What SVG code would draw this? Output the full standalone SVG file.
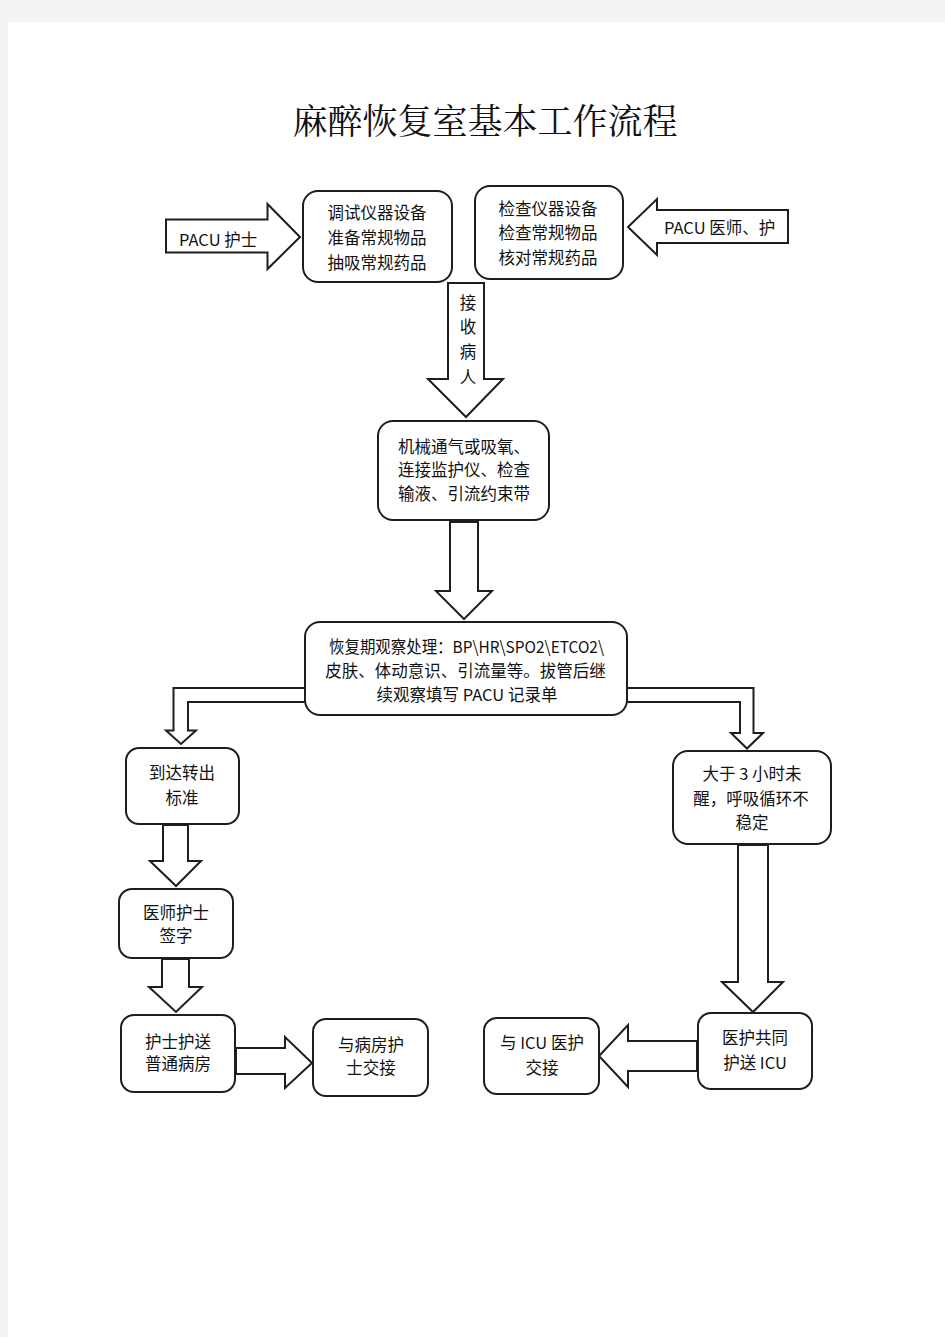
<svg xmlns="http://www.w3.org/2000/svg" width="945" height="1337" viewBox="0 0 945 1337">
<style>
.box{fill:#fff;stroke:#1e1e1e;stroke-width:2}
.arr{fill:#fff;stroke:#1e1e1e;stroke-width:2;stroke-linejoin:miter}
.t{font-family:"Noto Sans CJK SC","Noto Sans",sans-serif;font-size:16.5px;fill:#111;text-anchor:middle}
.ts{font-family:"Noto Sans CJK SC","Noto Sans",sans-serif;font-size:16.5px;fill:#111;text-anchor:start}
.title{font-family:"Noto Serif CJK SC","Liberation Serif",serif;font-size:35px;fill:#111;text-anchor:middle}
</style>
<rect x="0" y="0" width="945" height="1337" fill="#f3f3f3"/>
<rect x="8" y="22" width="937" height="1315" fill="#fff"/>
<text class="title" x="485" y="134">麻醉恢复室基本工作流程</text>

<g id="connectors">
  <g id="arrow-pacu-nurse">
    <polygon class="arr" points="166,219.5 267.5,219.5 267.5,204 300,237 267.5,269 267.5,252.5 166,252.5"/>
    <text class="ts" x="179" y="246">PACU 护士</text>
  </g>
  <g id="arrow-pacu-doctor">
    <polygon class="arr" points="788,210 657,210 657,199 628,227 657,255 657,243 788,243"/>
    <text class="ts" x="664" y="234">PACU 医师、护</text>
  </g>
  <g id="arrow-receive">
    <polygon class="arr" points="448,283 484,283 484,379 503,379 466,417 428,379 448,379"/>
    <text class="t" x="468" y="309">接</text>
    <text class="t" x="468" y="333">收</text>
    <text class="t" x="468" y="358">病</text>
    <text class="t" x="468" y="383">人</text>
  </g>
  <polygon id="arrow-3-4" class="arr" points="450,522 478,522 478,591 492,591 464,619 436,591 450,591"/>
  <polygon id="arrow-4-left" class="arr" points="305,688 173.5,688 173.5,730.5 166,730.5 181,744 196,730.5 188,730.5 188,702 305,702"/>
  <polygon id="arrow-4-right" class="arr" points="627,688 753.5,688 753.5,733 763,733 747,748.5 731,733 740,733 740,702 627,702"/>
  <polygon id="arrow-l1" class="arr" points="163,825 188,825 188,861 201,861 176,886 150,861 163,861"/>
  <polygon id="arrow-l2" class="arr" points="162,959 189,959 189,987 202,987 176,1012 149,987 162,987"/>
  <polygon id="arrow-l3" class="arr" points="236,1048 285,1048 285,1037 312,1063 285,1088 285,1074 236,1074"/>
  <polygon id="arrow-r1" class="arr" points="738,845 768,845 768,982 783,982 753,1012 722,982 738,982"/>
  <polygon id="arrow-r2" class="arr" points="697,1041 628,1041 628,1025 599,1056 628,1087 628,1071 697,1071"/>
</g>

<g id="node-prepare">
  <rect class="box" x="303" y="191" width="149" height="91" rx="15"/>
  <text class="t" x="377" y="219">调试仪器设备</text>
  <text class="t" x="377" y="244">准备常规物品</text>
  <text class="t" x="377" y="269">抽吸常规药品</text>
</g>
<g id="node-check">
  <rect class="box" x="475" y="186" width="148" height="93" rx="15"/>
  <text class="t" x="548" y="215">检查仪器设备</text>
  <text class="t" x="548" y="239">检查常规物品</text>
  <text class="t" x="548" y="264">核对常规药品</text>
</g>
<g id="node-ventilate">
  <rect class="box" x="378" y="421" width="171" height="99" rx="15"/>
  <text class="t" x="464" y="453">机械通气或吸氧、</text>
  <text class="t" x="464" y="476">连接监护仪、检查</text>
  <text class="t" x="464" y="500">输液、引流约束带</text>
</g>
<g id="node-observe">
  <rect class="box" x="305" y="622" width="322" height="93" rx="15"/>
  <text class="t" x="466.5" y="653" textLength="275" lengthAdjust="spacingAndGlyphs">恢复期观察处理：BP\HR\SPO2\ETCO2\</text>
  <text class="t" x="465.5" y="677">皮肤、体动意识、引流量等。拔管后继</text>
  <text class="t" x="467" y="701">续观察填写 PACU 记录单</text>
</g>
<g id="node-standard">
  <rect class="box" x="126" y="748" width="113" height="76" rx="13"/>
  <text class="t" x="182" y="779">到达转出</text>
  <text class="t" x="182" y="804">标准</text>
</g>
<g id="node-sign">
  <rect class="box" x="119" y="889" width="114" height="69" rx="13"/>
  <text class="t" x="176" y="919">医师护士</text>
  <text class="t" x="176" y="942">签字</text>
</g>
<g id="node-ward">
  <rect class="box" x="121" y="1015" width="114" height="77" rx="13"/>
  <text class="t" x="178" y="1048">护士护送</text>
  <text class="t" x="178" y="1070">普通病房</text>
</g>
<g id="node-ward-handover">
  <rect class="box" x="313" y="1019" width="115" height="77" rx="13"/>
  <text class="t" x="371" y="1051">与病房护</text>
  <text class="t" x="371" y="1074">士交接</text>
</g>
<g id="node-unstable">
  <rect class="box" x="673" y="751" width="158" height="93" rx="15"/>
  <text class="t" x="752" y="780">大于 3 小时未</text>
  <text class="t" x="751" y="805">醒，呼吸循环不</text>
  <text class="t" x="752" y="829">稳定</text>
</g>
<g id="node-icu">
  <rect class="box" x="698" y="1013" width="114" height="76" rx="13"/>
  <text class="t" x="755" y="1044">医护共同</text>
  <text class="t" x="755" y="1069">护送 ICU</text>
</g>
<g id="node-icu-handover">
  <rect class="box" x="484" y="1018" width="115" height="76" rx="13"/>
  <text class="t" x="542" y="1049">与 ICU 医护</text>
  <text class="t" x="542" y="1074">交接</text>
</g>
</svg>
